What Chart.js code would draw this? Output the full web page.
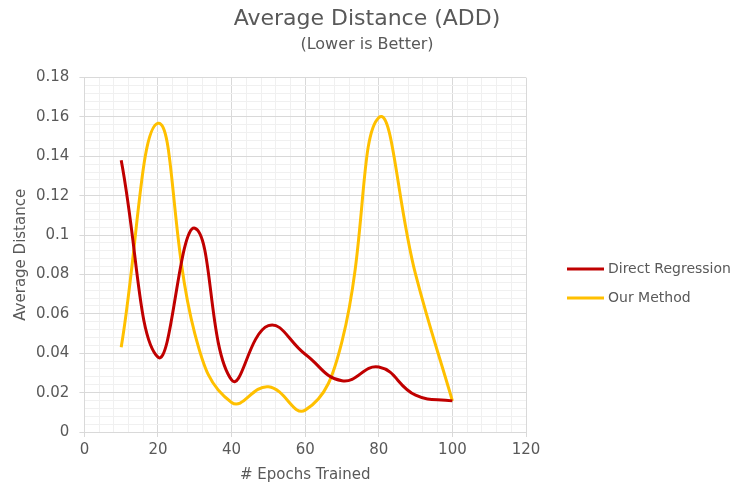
<!DOCTYPE html>
<html>
<head>
<meta charset="utf-8">
<script src="https://cdn.jsdelivr.net/npm/chart.js@4"></script>
<style>
  html, body { margin: 0; padding: 0; background: #fff; }
  #wrap { width: 734px; height: 490px; }
</style>
</head>
<body>
<div id="wrap"><canvas id="addChart"></canvas></div>
<script>
const epochs = [10, 20, 30, 40, 50, 60, 70, 80, 90, 100];
const directRegression = [0.138, 0.038, 0.1035, 0.0265, 0.054, 0.0395, 0.026, 0.033, 0.0187, 0.0158];
const ourMethod = [0.043, 0.1568, 0.05, 0.015, 0.023, 0.0111, 0.046, 0.1597, 0.08, 0.0158];

const gray = "#595959";
const fontFamily = "'DejaVu Sans', sans-serif";

function toPoints(ys) {
  return epochs.map((x, i) => ({ x: x, y: ys[i] }));
}

function isMajorY(v) {
  return Math.round(v * 1000) % 20 === 0;
}

// legend drawn to the right of the plot, like the Excel one
const sideLegend = {
  id: "sideLegend",
  afterDraw(chart) {
    const c = chart.ctx;
    const area = chart.chartArea;
    const x0 = area.right + 41;
    let y = area.top + 191.5;
    c.save();
    c.font = "14px " + fontFamily;
    c.textBaseline = "middle";
    chart.data.datasets.forEach((ds) => {
      c.strokeStyle = ds.borderColor;
      c.lineWidth = 3;
      c.beginPath();
      c.moveTo(x0, y);
      c.lineTo(x0 + 37, y);
      c.stroke();
      c.fillStyle = gray;
      c.fillText(ds.label, x0 + 41, y);
      y += 29;
    });
    c.restore();
  }
};

const ctx = document.getElementById("addChart").getContext("2d");

const addChart = new Chart(ctx, {
  type: "scatter",
  data: {
    datasets: [
      {
        label: "Direct Regression",
        data: toPoints(directRegression),
        showLine: true,
        borderColor: "#c00000",
        backgroundColor: "#c00000",
        borderWidth: 3,
        pointRadius: 0,
        tension: 0.45,
      },
      {
        label: "Our Method",
        data: toPoints(ourMethod),
        showLine: true,
        borderColor: "#ffc000",
        backgroundColor: "#ffc000",
        borderWidth: 3,
        pointRadius: 0,
        tension: 0.45,
      },
    ],
  },
  options: {
    responsive: true,
    maintainAspectRatio: false,
    animation: false,
    layout: {
      padding: { left: 0, right: 0, top: 0, bottom: 6 },
    },
    plugins: {
      legend: { display: false },
      tooltip: { enabled: false },
      title: {
        display: true,
        text: "Average Distance (ADD)",
        color: gray,
        font: { family: fontFamily, size: 22, weight: "normal" },
        padding: { top: 6, bottom: 2 },
      },
      subtitle: {
        display: true,
        text: "(Lower is Better)",
        color: gray,
        font: { family: fontFamily, size: 16, weight: "normal" },
        padding: { top: 1, bottom: 23 },
      },
    },
    scales: {
      x: {
        type: "linear",
        min: 0,
        max: 120,
        border: { color: "#d9d9d9" },
        grid: {
          color: (c) => (c.tick && c.tick.value % 20 === 0 ? "#d9d9d9" : "#f0f0f0"),
          tickColor: (c) => (c.tick && c.tick.value % 20 === 0 ? "#d9d9d9" : "rgba(0,0,0,0)"),
          tickLength: 5,
        },
        ticks: {
          stepSize: 4,
          autoSkip: false,
          maxRotation: 0,
          padding: 4,
          color: gray,
          font: { family: fontFamily, size: 15 },
          callback: (v) => (v % 20 === 0 ? String(v) : ""),
        },
        title: {
          display: true,
          text: "# Epochs Trained",
          color: gray,
          font: { family: fontFamily, size: 15 },
          padding: { top: 3, bottom: 0 },
        },
      },
      y: {
        min: 0,
        max: 0.18,
        border: { color: "#d9d9d9" },
        grid: {
          color: (c) => (c.tick && isMajorY(c.tick.value) ? "#d9d9d9" : "#f0f0f0"),
          tickColor: (c) => (c.tick && isMajorY(c.tick.value) ? "#d9d9d9" : "rgba(0,0,0,0)"),
          tickLength: 5,
        },
        ticks: {
          stepSize: 0.004,
          autoSkip: false,
          padding: 10,
          color: gray,
          font: { family: fontFamily, size: 15 },
          callback: (v) => (isMajorY(v) ? String(+v.toFixed(2)) : ""),
        },
        title: {
          display: true,
          text: "Average Distance",
          color: gray,
          font: { family: fontFamily, size: 15 },
          padding: { top: 12, bottom: -4 },
        },
      },
      // empty axis that only reserves room on the right for the legend
      side: {
        type: "linear",
        position: "right",
        grid: { display: false },
        border: { display: false },
        ticks: { display: false },
        afterFit: (scale) => { scale.width = 208; },
      },
    },
  },
  plugins: [sideLegend],
});
</script>
</body>
</html>
